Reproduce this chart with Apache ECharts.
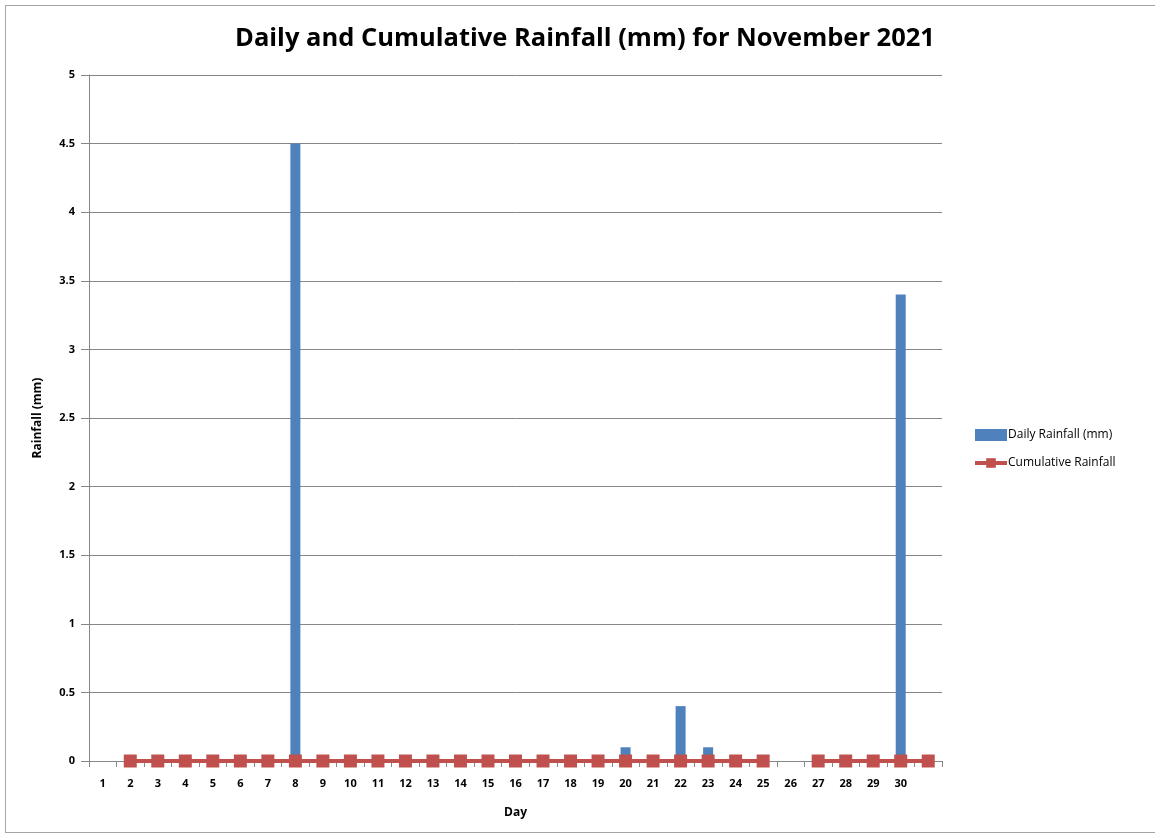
<!DOCTYPE html>
<html>
<head>
<meta charset="utf-8">
<script src="https://cdn.jsdelivr.net/npm/echarts@6/dist/echarts.min.js"></script>
<style>
  html, body { margin: 0; padding: 0; background: #fff; }
  #frame { position: absolute; left: 5px; top: 5px; width: 1160px; height: 826px; border: 1px solid #a6a6a6; }
  #Chart { position: absolute; left: 0; top: 0; width: 1155px; height: 835px; }
</style>
</head>
<body>
<div id="frame"></div>
<div id="Chart"></div>
<script>
var days = ['1', '2', '3', '4', '5', '6', '7', '8', '9', '10', '11', '12', '13', '14', '15', '16',
  '17', '18', '19', '20', '21', '22', '23', '24', '25', '26', '27', '28', '29', '30', ''];
var dailyRain = [0, 0, 0, 0, 0, 0, 0, 4.5, 0, 0, 0, 0, 0, 0, 0, 0,
  0, 0, 0, 0.1, 0, 0.4, 0.1, 0, 0, 0, 0, 0, 0, 3.4, 0];
var cumulativeRain = [null, 0, 0, 0, 0, 0, 0, 0, 0, 0, 0, 0, 0, 0, 0, 0,
  0, 0, 0, 0, 0, 0, 0, 0, 0, null, 0, 0, 0, 0, 0];

var FONT = '"Open Sans", "Liberation Sans", sans-serif';

var myChart = echarts.init(document.getElementById('Chart'));
var option = {
  animation: false,
  textStyle: { fontFamily: FONT },
  title: {
    text: 'Daily and Cumulative Rainfall (mm) for November 2021',
    left: 580,
    textAlign: 'center',
    top: 21,
    textStyle: { fontFamily: FONT, fontSize: 25.5, fontWeight: 'bold', color: '#000' }
  },
  grid: { left: 89, right: 213, top: 75, bottom: 74 },
  legend: {
    orient: 'vertical',
    left: 968,
    top: 424,
    itemWidth: 32,
    itemHeight: 12,
    itemGap: 16,
    textStyle: { fontFamily: FONT, fontSize: 12, color: '#000', padding: [0, 0, 0, -4] },
    data: [
      { name: 'Daily Rainfall (mm)', icon: 'rect', itemStyle: { color: '#4f81bd' } },
      { name: 'Cumulative Rainfall', lineStyle: { width: 4 } }
    ]
  },
  xAxis: {
    type: 'category',
    data: days,
    name: 'Day',
    nameLocation: 'middle',
    nameGap: 46,
    nameTextStyle: { fontFamily: FONT, fontSize: 12, fontWeight: 'bold', color: '#000' },
    axisLine: { lineStyle: { color: '#868686' } },
    axisTick: { show: true, alignWithLabel: false, length: 6, lineStyle: { color: '#868686' } },
    axisLabel: { fontFamily: FONT, fontSize: 11, fontWeight: 'bold', color: '#000', margin: 17, interval: 0 }
  },
  yAxis: {
    type: 'value',
    min: 0,
    max: 5,
    interval: 0.5,
    name: 'Rainfall (mm)',
    nameLocation: 'middle',
    nameGap: 45,
    nameTextStyle: { fontFamily: FONT, fontSize: 12, fontWeight: 'bold', color: '#000' },
    axisLine: { show: true, lineStyle: { color: '#868686' } },
    axisTick: { show: true, length: 8, lineStyle: { color: '#868686' } },
    axisLabel: { fontFamily: FONT, fontSize: 11, fontWeight: 'bold', color: '#000', margin: 14 },
    splitLine: { lineStyle: { color: '#868686' } }
  },
  series: [{
    name: 'Daily Rainfall (mm)',
    type: 'bar',
    data: dailyRain,
    barWidth: 10,
    itemStyle: { color: '#4f81bd' }
  }, {
    name: 'Cumulative Rainfall',
    type: 'line',
    data: cumulativeRain,
    connectNulls: false,
    symbol: 'rect',
    symbolSize: 13,
    lineStyle: { color: '#c0504d', width: 4 },
    itemStyle: { color: '#c0504d' }
  }]
};
myChart.setOption(option);
</script>
</body>
</html>
